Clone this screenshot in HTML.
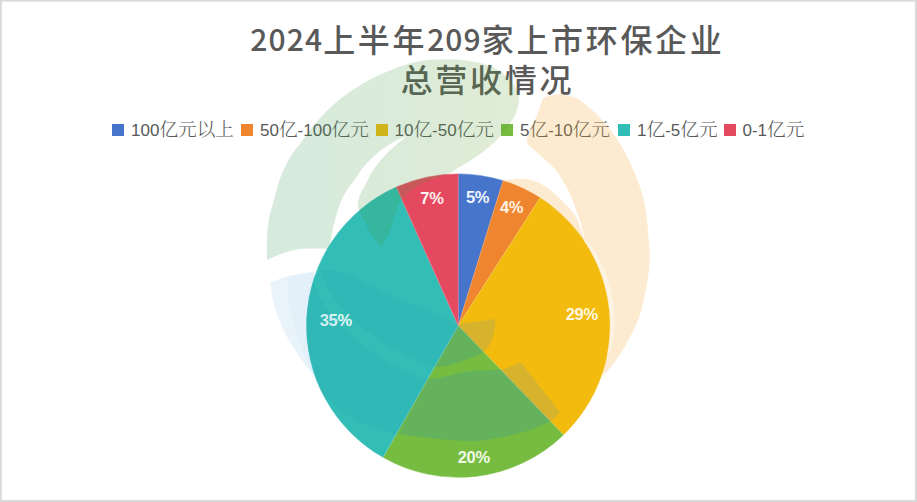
<!DOCTYPE html>
<html lang="zh-CN">
<head>
<meta charset="utf-8">
<title>2024上半年209家上市环保企业总营收情况</title>
<style>
html,body{margin:0;padding:0;}
body{width:917px;height:502px;position:relative;overflow:hidden;background:#fff;
  font-family:"Liberation Sans","Noto Sans CJK SC",sans-serif;}
#title{position:absolute;left:187.4px;top:17.7px;width:600px;text-align:center;color:#595959;
  font-family:"Noto Sans CJK SC","Liberation Sans",sans-serif;font-weight:500;font-size:32px;letter-spacing:2.67px;line-height:40px;white-space:nowrap;}
#title .n{font-size:30px;letter-spacing:1.1px;position:relative;top:-0.8px;line-height:0;}
.lg{position:absolute;top:118px;height:24px;white-space:nowrap;color:#595959;}
.lg i{position:absolute;left:0;top:6px;width:12px;height:12px;display:block;}
.lg .lt{position:absolute;left:19px;top:0;line-height:24px;font-size:18.67px;
  font-family:"Liberation Sans","Noto Serif CJK SC",serif;font-weight:300;}
.lg .d{font-family:"Liberation Sans",sans-serif;font-size:17px;font-weight:400;}
#pie{position:absolute;left:0;top:0;}
.pl{position:absolute;width:60px;height:24px;line-height:24px;text-align:center;color:#fff;
  font-family:"Liberation Sans",sans-serif;font-weight:700;font-size:16.5px;letter-spacing:-0.3px;}
#wm{position:absolute;left:0;top:0;pointer-events:none;filter:blur(0.5px);}
</style>
</head>
<body>
<div id="title"><span class="n">2024</span>上半年<span class="n">209</span>家上市环保企业<br>总营收情况</div>
<div class="lg" style="left:112.0px"><i style="background:#4775CC"></i><span class="lt"><span class="d">100</span>亿元以上</span></div>
<div class="lg" style="left:241.0px"><i style="background:#EF852F"></i><span class="lt"><span class="d">50</span>亿<span class="d">-100</span>亿元</span></div>
<div class="lg" style="left:375.5px"><i style="background:#F2BB0E"></i><span class="lt"><span class="d">10</span>亿<span class="d">-50</span>亿元</span></div>
<div class="lg" style="left:501.0px"><i style="background:#76BC40"></i><span class="lt"><span class="d">5</span>亿<span class="d">-10</span>亿元</span></div>
<div class="lg" style="left:618.0px"><i style="background:#32BDB6"></i><span class="lt"><span class="d">1</span>亿<span class="d">-5</span>亿元</span></div>
<div class="lg" style="left:723.5px"><i style="background:#E5495F"></i><span class="lt"><span class="d">0-1</span>亿元</span></div>

<svg id="pie" width="917" height="502" viewBox="0 0 917 502">
<g fill="#d9d9d9"><rect x="0" y="0" width="917" height="1.6"/><rect x="0" y="499.9" width="917" height="2.1"/><rect x="0" y="0" width="1.8" height="502"/><rect x="914.9" y="0" width="2.1" height="502"/></g>
<path d="M458.20 325.60L458.20 173.90A151.7 151.7 0 0 1 503.06 180.68Z" fill="#4775CC" stroke="#4775CC" stroke-width="0.5"/>
<path d="M458.20 325.60L503.06 180.68A151.7 151.7 0 0 1 540.04 197.87Z" fill="#EF852F" stroke="#EF852F" stroke-width="0.5"/>
<path d="M458.20 325.60L540.04 197.87A151.7 151.7 0 0 1 563.39 434.91Z" fill="#F2BB0E" stroke="#F2BB0E" stroke-width="0.5"/>
<path d="M458.20 325.60L563.39 434.91A151.7 151.7 0 0 1 383.04 457.37Z" fill="#76BC40" stroke="#76BC40" stroke-width="0.5"/>
<path d="M458.20 325.60L383.04 457.37A151.7 151.7 0 0 1 396.26 187.12Z" fill="#32BDB6" stroke="#32BDB6" stroke-width="0.5"/>
<path d="M458.20 325.60L396.26 187.12A151.7 151.7 0 0 1 458.20 173.90Z" fill="#E5495F" stroke="#E5495F" stroke-width="0.5"/>
<line x1="458.20" y1="325.60" x2="458.20" y2="173.90" stroke="#fff" stroke-opacity="0.3" stroke-width="0.7"/>
<line x1="458.20" y1="325.60" x2="503.06" y2="180.68" stroke="#fff" stroke-opacity="0.3" stroke-width="0.7"/>
<line x1="458.20" y1="325.60" x2="540.04" y2="197.87" stroke="#fff" stroke-opacity="0.3" stroke-width="0.7"/>
<line x1="458.20" y1="325.60" x2="563.39" y2="434.91" stroke="#fff" stroke-opacity="0.3" stroke-width="0.7"/>
<line x1="458.20" y1="325.60" x2="383.04" y2="457.37" stroke="#fff" stroke-opacity="0.3" stroke-width="0.7"/>
<line x1="458.20" y1="325.60" x2="396.26" y2="187.12" stroke="#fff" stroke-opacity="0.3" stroke-width="0.7"/>
</svg>
<div class="pl" style="left:447.6px;top:185.0px;color:#F1F5FF">5%</div>
<div class="pl" style="left:481.5px;top:195.1px;color:#FFF3E6">4%</div>
<div class="pl" style="left:551.7px;top:301.9px;color:#FFF8E0">29%</div>
<div class="pl" style="left:443.8px;top:445.0px;color:#F1FAE8">20%</div>
<div class="pl" style="left:305.8px;top:307.6px;color:#E4F8F7">35%</div>
<div class="pl" style="left:401.9px;top:185.6px;color:#FFF0F2">7%</div>

<svg id="wm" width="917" height="502" viewBox="0 0 917 502">
<defs>
<clipPath id="inpie"><circle cx="458.2" cy="325.6" r="151.7"/></clipPath>
<clipPath id="outpie"><path clip-rule="evenodd" d="M0 0H917V502H0ZM306.5 325.6a151.7 151.7 0 1 0 303.4 0a151.7 151.7 0 1 0 -303.4 0Z"/></clipPath>
<clipPath id="inteal"><path d="M458.2 325.6L385.38 460.16A153 153 0 0 1 391.52 187.89Z"/></clipPath>
<clipPath id="inrest"><path d="M458.2 325.6L391.52 187.89A153 153 0 1 1 385.38 460.16Z"/></clipPath>
<clipPath id="inyellow"><path d="M458.2 325.6L540.92 196.89A153 153 0 0 1 564.34 435.80Z"/></clipPath>
<clipPath id="ingreen"><path d="M458.2 325.6L564.34 435.80A153 153 0 0 1 385.38 460.16Z"/></clipPath>
<linearGradient id="gg" gradientUnits="userSpaceOnUse" x1="267" y1="0" x2="520" y2="0"><stop offset="0" stop-color="rgb(50,150,84)" stop-opacity="0.2"/><stop offset="1" stop-color="rgb(98,160,50)" stop-opacity="0.2"/></linearGradient>
</defs>
<path d="M267.0 260.0C267.0 256.6 266.6 246.9 267.0 239.8C267.4 232.7 268.0 224.1 269.2 217.4C270.4 210.7 272.3 206.3 274.1 199.8C275.9 193.3 277.5 185.3 280.1 178.3C282.7 171.3 286.2 163.8 289.7 157.9C293.1 152.0 296.3 148.8 300.8 142.7C305.3 136.6 311.2 128.0 316.9 121.4C322.6 114.9 328.8 108.6 334.8 103.4C340.8 98.2 346.8 94.0 352.8 90.0C358.8 86.0 364.7 82.4 370.7 79.2C376.7 76.0 383.0 73.5 388.7 71.1C394.4 68.7 399.4 66.6 404.8 64.9C410.2 63.2 414.7 61.8 420.9 60.9C427.1 60.0 434.8 59.5 441.8 59.3C448.8 59.1 455.8 59.1 462.8 59.9C469.8 60.7 477.4 62.2 483.7 64.1C490.0 66.0 495.5 68.1 500.4 71.4C505.3 74.7 509.9 79.6 513.0 83.9C516.1 88.2 518.3 92.6 518.9 97.2C519.5 101.8 518.1 107.0 516.5 111.5C514.9 116.0 512.4 120.2 509.5 124.5C506.6 128.8 502.9 133.3 499.0 137.5C495.1 141.7 490.5 145.8 486.0 149.5C481.5 153.2 477.0 156.2 472.0 159.5C467.0 162.8 459.8 166.9 456.0 169.2C452.2 171.5 452.5 172.0 449.0 173.5C445.5 175.0 439.7 176.6 434.8 178.4C429.9 180.2 424.4 182.0 419.9 184.4C415.4 186.8 411.1 190.3 408.0 192.9C404.9 195.5 402.8 197.3 401.0 199.8C399.2 202.3 398.8 204.6 397.5 208.0C396.2 211.4 394.9 215.8 393.5 220.0C392.1 224.2 391.0 228.5 389.0 233.0C387.0 237.5 382.7 244.7 381.4 247.0C380.0 245.3 375.9 240.9 373.3 237.0C370.7 233.1 368.2 228.5 365.7 223.8C363.2 219.1 359.5 213.1 358.4 208.6C357.3 204.1 358.1 200.9 359.3 196.9C360.5 192.9 362.9 189.4 365.3 184.8C367.7 180.2 370.4 174.3 373.7 169.4C377.0 164.5 381.2 159.6 384.9 155.5C388.6 151.4 392.3 148.2 396.0 145.0C399.7 141.8 405.2 137.5 407.0 136.0C404.5 137.2 396.8 140.1 391.9 142.9C387.0 145.7 382.5 148.8 377.9 152.7C373.2 156.6 367.9 161.9 364.0 166.6C360.1 171.2 357.0 176.7 354.2 180.6C351.4 184.5 349.1 186.7 347.0 190.0C344.9 193.3 343.2 196.1 341.4 200.5C339.6 204.9 337.5 211.5 336.0 216.6C334.5 221.7 333.3 226.8 332.4 231.0C331.5 235.2 331.3 238.7 330.6 241.7C329.9 244.7 328.4 247.8 328.0 249.0C324.1 249.0 311.5 248.2 304.3 248.8C297.1 249.4 291.1 250.6 284.9 252.5C278.7 254.4 270.0 258.8 267.0 260.0Z" fill="url(#gg)"/>
<path d="M543.3 98.0C544.8 97.5 549.0 95.6 552.0 95.0C555.0 94.4 557.0 94.0 561.0 94.5C565.0 95.0 571.0 95.9 575.8 98.1C580.6 100.3 585.1 104.0 589.7 107.9C594.4 111.9 599.1 116.5 603.7 121.8C608.4 127.1 613.4 133.6 617.6 140.0C621.8 146.4 625.1 152.3 628.8 160.0C632.5 167.7 636.9 177.6 639.7 185.9C642.5 194.2 644.2 200.8 645.7 209.8C647.2 218.8 648.0 231.3 648.7 239.7C649.4 248.1 649.9 253.3 649.7 260.0C649.5 266.7 648.7 273.2 647.7 279.8C646.7 286.4 645.0 293.7 643.7 299.7C642.4 305.7 641.7 310.2 639.7 315.9C637.7 321.6 634.7 327.8 631.7 333.8C628.7 339.8 625.1 346.4 621.8 351.7C618.5 357.0 614.9 361.6 611.8 365.7C608.7 369.8 604.5 374.3 603.0 376.0C602.5 371.7 601.0 359.3 600.0 350.0C599.0 340.7 598.2 330.0 597.0 320.0C595.8 310.0 594.3 299.7 593.0 290.0C591.7 280.3 590.3 270.4 589.0 262.0C587.7 253.6 586.2 245.4 585.0 239.7C583.8 234.0 583.2 232.3 582.0 228.0C580.8 223.7 579.3 219.3 577.5 214.0C575.7 208.7 573.5 201.7 571.0 196.0C568.5 190.3 564.7 184.1 562.2 179.8C559.7 175.5 558.6 173.2 556.2 170.2C553.8 167.2 550.6 164.5 547.8 161.9C545.0 159.3 542.3 157.1 539.5 154.7C536.7 152.3 533.2 149.7 531.1 147.5C529.0 145.3 527.4 143.9 527.0 141.5C526.6 139.1 527.1 136.8 528.5 133.0C529.9 129.2 533.5 123.2 535.3 119.0C537.1 114.8 538.2 111.4 539.5 107.9C540.8 104.4 542.7 99.7 543.3 98.0Z" fill="rgba(240,165,40,0.22)" clip-path="url(#outpie)"/>
<path d="M502.0 181.0C503.3 180.8 506.1 179.9 509.9 179.6C513.7 179.2 519.8 178.3 524.8 178.9C529.8 179.5 534.8 180.8 539.8 183.3C544.8 185.8 550.2 190.1 554.7 193.8C559.2 197.6 563.2 202.1 566.7 205.8C570.2 209.5 573.3 212.0 575.7 216.0C578.1 220.0 579.5 226.1 581.0 230.0C582.5 233.9 584.3 238.1 585.0 239.7C584.2 243.1 582.5 254.6 580.0 260.0C577.5 265.4 574.0 271.7 570.0 272.0C566.0 272.3 561.0 268.2 556.0 262.0C551.0 255.8 545.7 244.5 540.0 235.0C534.3 225.5 528.3 214.0 522.0 205.0C515.7 196.0 505.3 185.0 502.0 181.0Z" fill="rgba(240,165,40,0.22)" clip-path="url(#outpie)"/>
<g clip-path="url(#ingreen)" fill="rgba(28,138,204,0.2)">
<path d="M270.3 282.5C270.7 285.4 271.6 293.9 272.9 299.8C274.2 305.7 276.1 311.8 278.3 317.8C280.6 323.8 283.8 330.7 286.4 335.7C289.0 340.7 290.7 343.3 293.7 348.0C296.7 352.7 301.2 359.5 304.5 364.0C307.8 368.5 310.2 369.9 313.4 374.8C316.6 379.8 316.8 386.2 323.7 393.7C330.6 401.2 343.3 413.1 354.8 419.6C366.3 426.1 380.2 429.4 392.7 432.5C405.2 435.6 416.2 436.6 430.0 438.0C443.8 439.4 460.5 441.8 475.5 441.0C490.5 440.2 507.8 436.2 520.0 433.0C532.2 429.8 542.1 425.3 548.8 421.9C555.5 418.5 558.1 414.0 560.0 412.4L520.8 362.1C517.6 363.3 510.9 367.7 501.7 369.3C492.5 370.9 477.8 370.1 465.8 371.7C453.9 373.3 440.1 378.8 430.0 378.8C419.9 378.9 413.7 375.8 405.0 372.0C396.3 368.2 387.2 362.3 378.0 356.0C368.8 349.7 358.3 341.7 350.0 334.0C341.7 326.3 333.7 317.7 328.0 310.0C322.3 302.3 318.3 294.4 316.0 288.0C313.7 281.6 314.3 274.4 314.0 271.7C310.1 272.4 298.2 273.8 290.9 275.6C283.6 277.4 273.7 281.4 270.3 282.5Z"/>
<path d="M321.0 270.0C322.5 273.7 324.8 284.0 330.0 292.0C335.2 300.0 343.7 309.8 352.0 318.0C360.3 326.2 370.3 334.3 380.0 341.0C389.7 347.7 400.5 353.7 410.0 358.0C419.5 362.3 427.9 366.6 437.2 366.9C446.5 367.2 457.8 362.5 465.8 359.7C473.8 356.9 480.4 354.2 485.0 350.2C489.6 346.2 491.5 341.0 493.3 335.8C495.1 330.6 495.3 321.9 495.7 319.1L459.0 324.0C454.2 322.0 440.6 316.4 430.0 312.0C419.4 307.6 406.4 302.6 395.6 297.8C384.8 293.0 374.0 287.2 365.0 283.0C356.0 278.8 348.7 274.5 341.4 272.3C334.1 270.1 324.4 270.4 321.0 270.0Z"/>
</g>
<g clip-path="url(#inyellow)" fill="rgba(110,150,170,0.2)">
<path d="M270.3 282.5C270.7 285.4 271.6 293.9 272.9 299.8C274.2 305.7 276.1 311.8 278.3 317.8C280.6 323.8 283.8 330.7 286.4 335.7C289.0 340.7 290.7 343.3 293.7 348.0C296.7 352.7 301.2 359.5 304.5 364.0C307.8 368.5 310.2 369.9 313.4 374.8C316.6 379.8 316.8 386.2 323.7 393.7C330.6 401.2 343.3 413.1 354.8 419.6C366.3 426.1 380.2 429.4 392.7 432.5C405.2 435.6 416.2 436.6 430.0 438.0C443.8 439.4 460.5 441.8 475.5 441.0C490.5 440.2 507.8 436.2 520.0 433.0C532.2 429.8 542.1 425.3 548.8 421.9C555.5 418.5 558.1 414.0 560.0 412.4L520.8 362.1C517.6 363.3 510.9 367.7 501.7 369.3C492.5 370.9 477.8 370.1 465.8 371.7C453.9 373.3 440.1 378.8 430.0 378.8C419.9 378.9 413.7 375.8 405.0 372.0C396.3 368.2 387.2 362.3 378.0 356.0C368.8 349.7 358.3 341.7 350.0 334.0C341.7 326.3 333.7 317.7 328.0 310.0C322.3 302.3 318.3 294.4 316.0 288.0C313.7 281.6 314.3 274.4 314.0 271.7C310.1 272.4 298.2 273.8 290.9 275.6C283.6 277.4 273.7 281.4 270.3 282.5Z"/>
<path d="M321.0 270.0C322.5 273.7 324.8 284.0 330.0 292.0C335.2 300.0 343.7 309.8 352.0 318.0C360.3 326.2 370.3 334.3 380.0 341.0C389.7 347.7 400.5 353.7 410.0 358.0C419.5 362.3 427.9 366.6 437.2 366.9C446.5 367.2 457.8 362.5 465.8 359.7C473.8 356.9 480.4 354.2 485.0 350.2C489.6 346.2 491.5 341.0 493.3 335.8C495.1 330.6 495.3 321.9 495.7 319.1L459.0 324.0C454.2 322.0 440.6 316.4 430.0 312.0C419.4 307.6 406.4 302.6 395.6 297.8C384.8 293.0 374.0 287.2 365.0 283.0C356.0 278.8 348.7 274.5 341.4 272.3C334.1 270.1 324.4 270.4 321.0 270.0Z"/>
</g>
<g clip-path="url(#inpie)"><g clip-path="url(#inteal)" fill="rgba(28,138,204,0.09)">
<path d="M270.3 282.5C270.7 285.4 271.6 293.9 272.9 299.8C274.2 305.7 276.1 311.8 278.3 317.8C280.6 323.8 283.8 330.7 286.4 335.7C289.0 340.7 290.7 343.3 293.7 348.0C296.7 352.7 301.2 359.5 304.5 364.0C307.8 368.5 310.2 369.9 313.4 374.8C316.6 379.8 316.8 386.2 323.7 393.7C330.6 401.2 343.3 413.1 354.8 419.6C366.3 426.1 380.2 429.4 392.7 432.5C405.2 435.6 416.2 436.6 430.0 438.0C443.8 439.4 460.5 441.8 475.5 441.0C490.5 440.2 507.8 436.2 520.0 433.0C532.2 429.8 542.1 425.3 548.8 421.9C555.5 418.5 558.1 414.0 560.0 412.4L520.8 362.1C517.6 363.3 510.9 367.7 501.7 369.3C492.5 370.9 477.8 370.1 465.8 371.7C453.9 373.3 440.1 378.8 430.0 378.8C419.9 378.9 413.7 375.8 405.0 372.0C396.3 368.2 387.2 362.3 378.0 356.0C368.8 349.7 358.3 341.7 350.0 334.0C341.7 326.3 333.7 317.7 328.0 310.0C322.3 302.3 318.3 294.4 316.0 288.0C313.7 281.6 314.3 274.4 314.0 271.7C310.1 272.4 298.2 273.8 290.9 275.6C283.6 277.4 273.7 281.4 270.3 282.5Z"/>
<path d="M321.0 270.0C322.5 273.7 324.8 284.0 330.0 292.0C335.2 300.0 343.7 309.8 352.0 318.0C360.3 326.2 370.3 334.3 380.0 341.0C389.7 347.7 400.5 353.7 410.0 358.0C419.5 362.3 427.9 366.6 437.2 366.9C446.5 367.2 457.8 362.5 465.8 359.7C473.8 356.9 480.4 354.2 485.0 350.2C489.6 346.2 491.5 341.0 493.3 335.8C495.1 330.6 495.3 321.9 495.7 319.1L459.0 324.0C454.2 322.0 440.6 316.4 430.0 312.0C419.4 307.6 406.4 302.6 395.6 297.8C384.8 293.0 374.0 287.2 365.0 283.0C356.0 278.8 348.7 274.5 341.4 272.3C334.1 270.1 324.4 270.4 321.0 270.0Z"/>
</g></g>
<g clip-path="url(#outpie)" fill="rgba(28,138,204,0.125)">
<path d="M270.3 282.5C270.7 285.4 271.6 293.9 272.9 299.8C274.2 305.7 276.1 311.8 278.3 317.8C280.6 323.8 283.8 330.7 286.4 335.7C289.0 340.7 290.7 343.3 293.7 348.0C296.7 352.7 301.2 359.5 304.5 364.0C307.8 368.5 310.2 369.9 313.4 374.8C316.6 379.8 316.8 386.2 323.7 393.7C330.6 401.2 343.3 413.1 354.8 419.6C366.3 426.1 380.2 429.4 392.7 432.5C405.2 435.6 416.2 436.6 430.0 438.0C443.8 439.4 460.5 441.8 475.5 441.0C490.5 440.2 507.8 436.2 520.0 433.0C532.2 429.8 542.1 425.3 548.8 421.9C555.5 418.5 558.1 414.0 560.0 412.4L520.8 362.1C517.6 363.3 510.9 367.7 501.7 369.3C492.5 370.9 477.8 370.1 465.8 371.7C453.9 373.3 440.1 378.8 430.0 378.8C419.9 378.9 413.7 375.8 405.0 372.0C396.3 368.2 387.2 362.3 378.0 356.0C368.8 349.7 358.3 341.7 350.0 334.0C341.7 326.3 333.7 317.7 328.0 310.0C322.3 302.3 318.3 294.4 316.0 288.0C313.7 281.6 314.3 274.4 314.0 271.7C310.1 272.4 298.2 273.8 290.9 275.6C283.6 277.4 273.7 281.4 270.3 282.5Z"/>
<path d="M321.0 270.0C322.5 273.7 324.8 284.0 330.0 292.0C335.2 300.0 343.7 309.8 352.0 318.0C360.3 326.2 370.3 334.3 380.0 341.0C389.7 347.7 400.5 353.7 410.0 358.0C419.5 362.3 427.9 366.6 437.2 366.9C446.5 367.2 457.8 362.5 465.8 359.7C473.8 356.9 480.4 354.2 485.0 350.2C489.6 346.2 491.5 341.0 493.3 335.8C495.1 330.6 495.3 321.9 495.7 319.1L459.0 324.0C454.2 322.0 440.6 316.4 430.0 312.0C419.4 307.6 406.4 302.6 395.6 297.8C384.8 293.0 374.0 287.2 365.0 283.0C356.0 278.8 348.7 274.5 341.4 272.3C334.1 270.1 324.4 270.4 321.0 270.0Z"/>
</g>
<path d="M270.3 282.5C270.7 285.4 271.6 293.9 272.9 299.8C274.2 305.7 276.1 311.8 278.3 317.8C280.6 323.8 283.8 330.7 286.4 335.7C289.0 340.7 290.7 343.3 293.7 348.0C296.7 352.7 301.2 359.5 304.5 364.0C307.8 368.5 311.9 373.0 313.4 374.8C313.1 374.4 313.1 375.7 311.6 372.5C310.1 369.3 307.0 362.6 304.4 355.8C301.8 349.0 298.6 341.1 296.0 331.9C293.4 322.7 290.3 310.0 288.9 300.8C287.5 291.6 287.9 280.6 287.7 276.5L270.3 282.5Z" fill="rgba(255,255,255,0.22)"/>
<path d="M582.2 238.8C583.6 240.0 588.1 243.4 590.5 246.1C593.0 248.8 594.8 252.0 596.7 255.0C598.6 258.1 600.3 261.3 601.9 264.6C603.5 267.9 604.9 271.2 606.2 274.6C607.5 278.0 608.7 281.5 609.7 285.0C610.7 288.5 611.5 292.1 612.2 295.7C612.9 299.2 613.5 302.9 613.8 306.5C614.2 310.1 614.5 313.8 614.5 317.4C614.6 321.0 614.5 324.7 614.3 328.3C614.0 331.9 613.6 335.6 613.0 339.1C612.4 342.7 611.9 346.3 610.7 349.8C609.5 353.2 606.5 358.0 605.7 359.7C605.7 357.8 606.8 352.7 607.3 349.2C607.9 345.8 608.3 342.3 608.6 338.8C608.9 335.3 609.1 331.7 609.2 328.2C609.2 324.7 609.2 321.2 609.0 317.7C608.8 314.2 608.5 310.7 608.1 307.2C607.6 303.7 607.1 300.2 606.4 296.8C605.8 293.3 605.0 289.9 604.1 286.5C603.1 283.1 602.1 279.8 601.0 276.4C599.8 273.1 598.6 269.8 597.2 266.6C595.8 263.4 594.3 260.2 592.7 257.0C591.1 253.9 589.4 250.8 587.6 247.8C585.8 244.8 582.8 240.5 581.9 239.0Z" fill="rgba(255,255,255,0.4)" clip-path="url(#outpie)"/>

</svg>
</body>
</html>
